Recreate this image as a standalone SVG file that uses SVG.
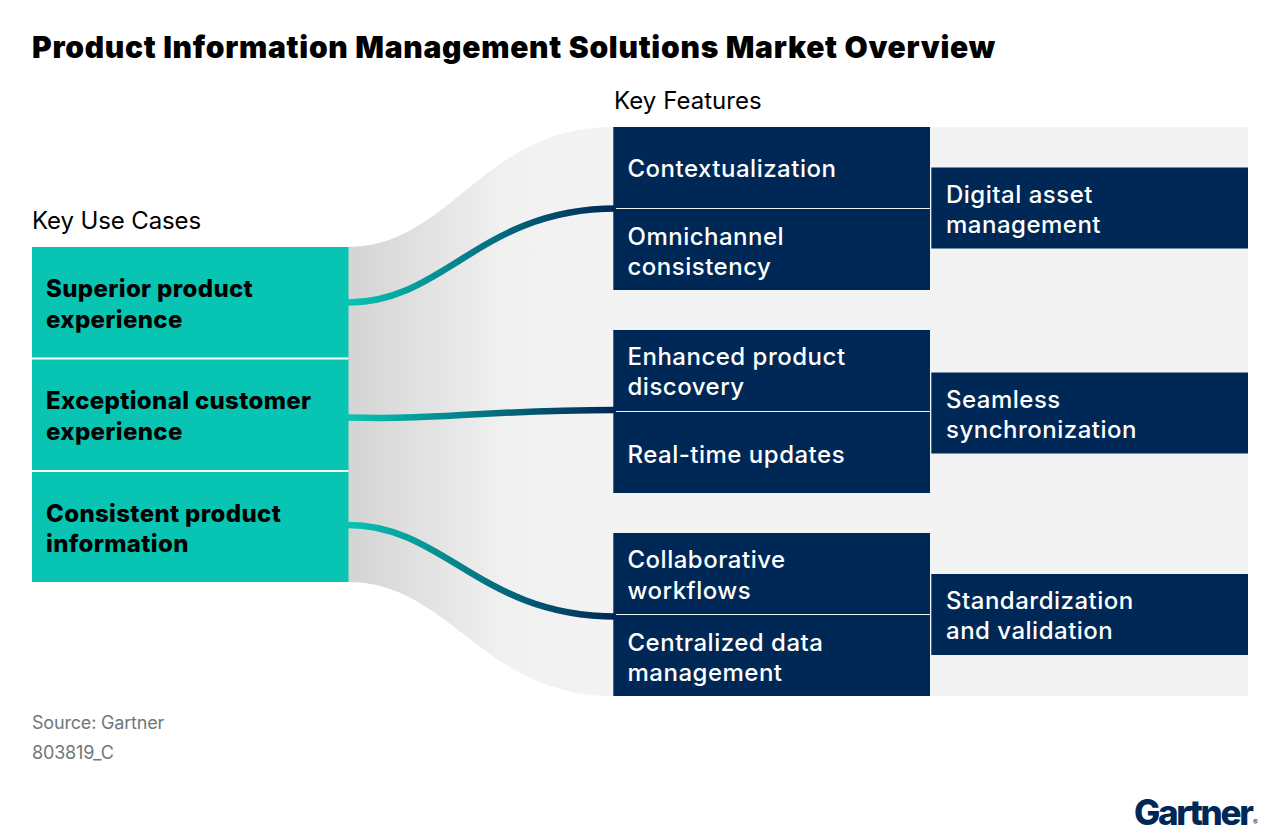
<svg xmlns="http://www.w3.org/2000/svg" width="1280" height="839" viewBox="0 0 1280 839">
<style>
text{font-family:"Inter","Liberation Sans",sans-serif}
.title{font-size:30px;font-weight:900;fill:#000;letter-spacing:.72px}
.head{font-size:24px;font-weight:400;fill:#000;letter-spacing:-.12px}
.uc{font-size:24px;font-weight:800;fill:#000;letter-spacing:.35px}
.ft{font-size:24px;font-weight:500;fill:#fff;letter-spacing:.5px}
.src{font-size:18px;fill:#6f7878;letter-spacing:-.18px}
.teal{fill:#08c4b2}
.navy{fill:#002856}
.link{fill:none;stroke-width:6.500}
</style>
<defs>
<linearGradient id="flow" gradientUnits="userSpaceOnUse" x1="349" y1="0" x2="613" y2="0"><stop offset="0" stop-color="#d4d4d4"/><stop offset="0.6" stop-color="#f1f1f1"/><stop offset="1" stop-color="#f3f3f3"/></linearGradient>
<linearGradient id="lk" gradientUnits="userSpaceOnUse" x1="349" y1="0" x2="613" y2="0"><stop offset="0" stop-color="#08c4b2"/><stop offset="1" stop-color="#002856"/></linearGradient>
</defs>
<rect width="1280" height="839" fill="#fff"/>
<text class="title" x="32" y="58">Product Information Management Solutions Market Overview</text>
<text class="head" x="32" y="229">Key Use Cases</text>
<text class="head" x="614" y="109" style="letter-spacing:.05px">Key Features</text>
<g id="backdrop">
<path d="M348 247C450 247 483 127 613 127L613 696C483 696 450 582 348 582Z" fill="url(#flow)"/>
<rect x="613" y="127" width="635" height="569" fill="#f3f3f3"/>
</g>
<g id="connectors">
<path class="link" stroke="url(#lk)" d="M348 302.500C445 302.500 480 208.500 616 208.500"/>
<path class="link" stroke="url(#lk)" d="M348 417.500C450 420 480 410 616 410"/>
<path class="link" stroke="url(#lk)" d="M348 525C445 525 480 616.500 616 616.500"/>
</g>
<g id="uc1"><rect class="teal" x="32" y="247" width="316.500" height="110.500"/><text class="uc" x="46" y="297">Superior product</text><text class="uc" x="46" y="328">experience</text></g>
<g id="uc2"><rect class="teal" x="32" y="359.500" width="316.500" height="110.500"/><text class="uc" x="46" y="409">Exceptional customer</text><text class="uc" x="46" y="440">experience</text></g>
<g id="uc3"><rect class="teal" x="32" y="472" width="316.500" height="110"/><text class="uc" x="46" y="522">Consistent product</text><text class="uc" x="46" y="552">information</text></g>
<g id="f1"><rect class="navy" x="613.300" y="127" width="316.700" height="81"/><text class="ft" x="627.500" y="177">Contextualization</text></g>
<g id="f2"><rect class="navy" x="613.300" y="209" width="316.700" height="81"/><text class="ft" x="627.500" y="245">Omnichannel</text><text class="ft" x="627.500" y="275">consistency</text></g>
<g id="f3"><rect class="navy" x="613.300" y="330" width="316.700" height="81"/><text class="ft" x="627.500" y="365">Enhanced product</text><text class="ft" x="627.500" y="395">discovery</text></g>
<g id="f4"><rect class="navy" x="613.300" y="412" width="316.700" height="81"/><text class="ft" x="627.500" y="463">Real-time updates</text></g>
<g id="f5"><rect class="navy" x="613.300" y="533" width="316.700" height="81"/><text class="ft" x="627.500" y="568">Collaborative</text><text class="ft" x="627.500" y="599">workflows</text></g>
<g id="f6"><rect class="navy" x="613.300" y="615" width="316.700" height="81"/><text class="ft" x="627.500" y="651">Centralized data</text><text class="ft" x="627.500" y="681">management</text></g>
<g id="d1"><rect class="navy" x="931.300" y="167.500" width="316.700" height="81"/><text class="ft" x="946" y="203">Digital asset</text><text class="ft" x="946" y="233">management</text></g>
<g id="d2"><rect class="navy" x="931.300" y="372.500" width="316.700" height="81"/><text class="ft" x="946" y="408">Seamless</text><text class="ft" x="946" y="438">synchronization</text></g>
<g id="d3"><rect class="navy" x="931.300" y="574" width="316.700" height="81"/><text class="ft" x="946" y="609">Standardization</text><text class="ft" x="946" y="639">and validation</text></g>
<text class="src" x="32" y="729">Source: Gartner</text>
<text class="src" x="32" y="759">803819_C</text>
<text id="logo" x="1134" y="825" font-size="35" font-weight="800" fill="#002856" letter-spacing="-2.300">Gartner<tspan font-size="7" font-weight="400" letter-spacing="0" dx="1.500">®</tspan></text>
</svg>
